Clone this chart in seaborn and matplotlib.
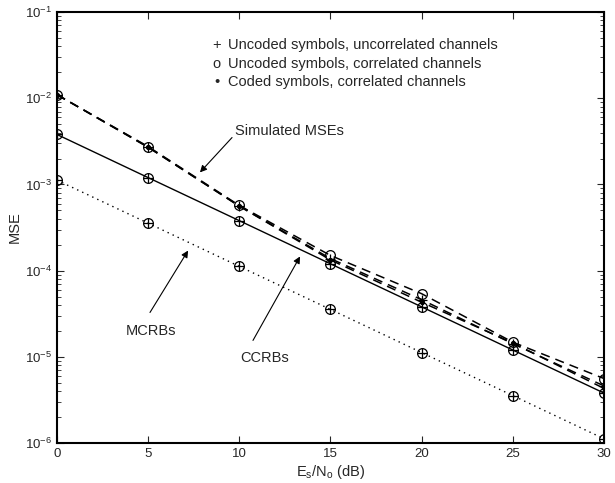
import numpy as np
import pandas as pd
import matplotlib
matplotlib.use("Agg")
import matplotlib.pyplot as plt
import seaborn as sns
from matplotlib.ticker import LogLocator, NullFormatter, FixedLocator

snr_db = [0, 5, 10, 15, 20, 25, 30]
mse_uncoded_uncorr = [1.1e-2, 2.7e-3, 5.6e-4, 1.38e-4, 4.6e-5, 1.42e-5, 4.6e-6]
mse_uncoded_corr = [1.1e-2, 2.75e-3, 5.7e-4, 1.5e-4, 5.4e-5, 1.48e-5, 5.6e-6]
mse_coded_corr = [1.1e-2, 2.7e-3, 5.6e-4, 1.33e-4, 4.3e-5, 1.45e-5, 4.3e-6]
ccrb = [3.8e-3, 1.2e-3, 3.8e-4, 1.2e-4, 3.8e-5, 1.2e-5, 3.8e-6]
mcrb = [1.12e-3, 3.55e-4, 1.12e-4, 3.55e-5, 1.12e-5, 3.55e-6, 1.12e-6]

legend_lines = ["Uncoded symbols, uncorrelated channels",
                "Uncoded symbols, correlated channels",
                "Coded symbols, correlated channels"]
legend_syms = ["+", "o", "\u2022"]

sns.set_style("ticks")
plt.rcParams['font.family'] = ['Liberation Sans', 'DejaVu Sans']
plt.rcParams['mathtext.fontset'] = 'custom'
plt.rcParams['mathtext.rm'] = 'Liberation Sans'

fig = plt.figure(figsize=(6.15, 4.83), dpi=100)
ax = fig.add_axes([0.0927, 0.0828, 0.8893, 0.8922])

df = pd.DataFrame({"snr": snr_db, "uu": mse_uncoded_uncorr, "uc": mse_uncoded_corr,
                   "cc": mse_coded_corr, "ccrb": ccrb, "mcrb": mcrb})

ms = 7
dash = (6, 4)
sns.lineplot(data=df, x="snr", y="uc", ax=ax, color='k', lw=1.1, marker='o',
             markersize=ms, markerfacecolor='none', markeredgecolor='k', markeredgewidth=0.9,
             linestyle=(0, dash))
sns.lineplot(data=df, x="snr", y="uu", ax=ax, color='k', lw=1.1, marker='+',
             markersize=ms, markeredgecolor='k', markeredgewidth=0.9, linestyle=(0, dash))
sns.lineplot(data=df, x="snr", y="cc", ax=ax, color='k', lw=1.1, marker='.',
             markersize=6, markeredgecolor='k', linestyle=(0, dash))
for col, ls in [("ccrb", '-'), ("mcrb", (0, (1, 3)))]:
    sns.lineplot(data=df, x="snr", y=col, ax=ax, color='k', lw=1.0, linestyle=ls,
                 marker='o', markersize=ms, markerfacecolor='none', markeredgecolor='k',
                 markeredgewidth=0.9)
    sns.lineplot(data=df, x="snr", y=col, ax=ax, color='k', lw=0, linestyle='none',
                 marker='+', markersize=ms, markeredgecolor='k', markeredgewidth=0.9)

ax.set_yscale('log')
ax.set_xlim(0, 30)
ax.set_ylim(1e-6, 1e-1)
ax.xaxis.set_major_locator(FixedLocator([0, 5, 10, 15, 20, 25, 30]))
ax.yaxis.set_major_locator(LogLocator(base=10, numticks=10))
ax.yaxis.set_minor_locator(LogLocator(base=10, subs=np.arange(2, 10), numticks=20))
ax.yaxis.set_minor_formatter(NullFormatter())
ax.tick_params(which='both', direction='in', top=True, right=True, labelsize=9.5)
ax.tick_params(which='major', length=5, width=0.8)
ax.tick_params(which='minor', length=3, width=0.6)
for s in ax.spines.values():
    s.set_linewidth(1.5)
    s.set_color('k')

ax.set_xlabel(r'E$_\mathregular{s}$/N$_\mathregular{o}$ (dB)', fontsize=10.5, labelpad=2)
ax.set_ylabel('MSE', fontsize=10.5)
ax.yaxis.set_label_coords(-0.064, 0.5)

for i, (sym, txt) in enumerate(zip(legend_syms, legend_lines)):
    y = 0.923 - i * 0.0425
    ax.text(0.292, y, sym, transform=ax.transAxes, fontsize=10.5, va='center', ha='center')
    ax.text(0.3125, y, txt, transform=ax.transAxes, fontsize=10.5, va='center', ha='left')

arrowprops = dict(arrowstyle='-|>', color='k', lw=0.8, mutation_scale=10,
                  shrinkA=0, shrinkB=0)
ax.annotate('', xy=(7.84, 1.38e-3), xytext=(9.6, 3.5e-3), arrowprops=arrowprops)
ax.text(9.77, 4.12e-3, 'Simulated MSEs', fontsize=10.5, ha='left', va='center')
ax.annotate('', xy=(7.19, 1.71e-4), xytext=(5.1, 3.27e-5), arrowprops=arrowprops)
ax.text(5.16, 2.02e-5, 'MCRBs', fontsize=10.5, ha='center', va='center')
ax.annotate('', xy=(13.33, 1.46e-4), xytext=(10.75, 1.55e-5), arrowprops=arrowprops)
ax.text(11.41, 9.8e-6, 'CCRBs', fontsize=10.5, ha='center', va='center')

fig.savefig('out.png', dpi=100)
